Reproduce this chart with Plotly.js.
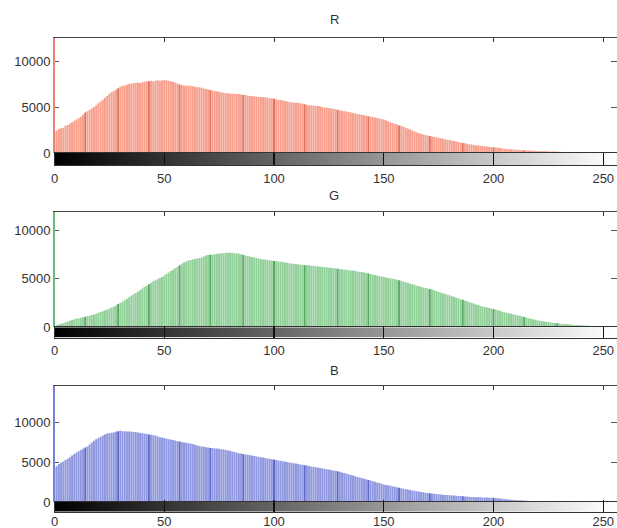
<!DOCTYPE html>
<html>
<head>
<meta charset="utf-8">
<script src="https://cdn.plot.ly/plotly-3.0.1.min.js"></script>
<style>html,body{margin:0;padding:0;background:#fff;}#chart{width:617px;height:528px;}</style>
</head>
<body>
<div id="chart"></div>
<script>
// Histogram counts for intensity levels 0..255
var redCounts = [
2300,2450,2600,2700,2750,2950,3050,3200,3350,3500,
3650,3800,3950,4150,4400,4550,4700,4850,5000,5200,
5400,5600,5800,6000,6200,6450,6600,6750,6900,7050,
7200,7300,7350,7450,7500,7550,7600,7600,7650,7600,
7700,7750,7800,7800,7850,7800,7850,7900,7850,7900,
7900,7900,7850,7800,7750,7650,7550,7450,7400,7350,
7350,7300,7300,7250,7200,7150,7150,7100,7000,6950,
6900,6850,6800,6750,6700,6650,6600,6550,6500,6500,
6450,6450,6450,6400,6400,6350,6300,6300,6250,6200,
6200,6150,6150,6100,6100,6050,6050,6000,5950,5950,
5900,5850,5800,5750,5700,5650,5600,5550,5500,5500,
5450,5450,5400,5350,5300,5250,5200,5200,5150,5100,
5100,5050,5000,4950,4950,4900,4850,4800,4750,4700,
4650,4600,4550,4500,4450,4400,4350,4300,4250,4200,
4150,4100,4050,4000,3950,3900,3850,3800,3750,3700,
3650,3550,3450,3350,3250,3150,3100,3000,2950,2850,
2750,2650,2550,2450,2350,2250,2150,2100,2000,1950,
1900,1850,1800,1750,1700,1650,1600,1550,1500,1450,
1400,1350,1300,1250,1200,1150,1100,1050,1000,950,
920,880,850,820,790,760,730,700,680,650,
620,590,560,530,500,470,440,420,400,380,
360,340,320,300,290,280,270,260,250,240,
230,220,210,200,190,180,170,160,150,140,
130,120,115,110,100,95,90,85,80,75,
70,65,60,55,50,45,40,38,35,32,
30,28,25,22,20,40];

var greenCounts = [
100,200,280,350,420,520,600,680,750,820,
880,930,980,1030,1100,1150,1200,1260,1320,1400,
1500,1580,1650,1750,1850,1950,2050,2150,2250,2400,
2500,2650,2800,2950,3100,3250,3400,3550,3700,3850,
4000,4150,4300,4450,4600,4750,4850,4950,5100,5200,
5350,5500,5650,5800,5950,6100,6250,6400,6550,6700,
6800,6900,6950,7000,7050,7100,7150,7200,7300,7400,
7450,7500,7500,7550,7600,7600,7650,7650,7700,7700,
7700,7700,7650,7650,7600,7550,7500,7400,7350,7300,
7250,7200,7150,7100,7050,7000,7000,6950,6900,6900,
6850,6850,6800,6800,6750,6700,6650,6600,6550,6550,
6500,6500,6450,6450,6400,6400,6400,6350,6350,6300,
6300,6250,6250,6200,6200,6150,6150,6100,6100,6050,
6000,6000,5950,5950,5900,5850,5850,5800,5750,5700,
5700,5650,5600,5550,5500,5450,5400,5350,5300,5250,
5200,5150,5100,5050,5000,4950,4900,4850,4800,4700,
4650,4600,4500,4450,4400,4300,4250,4150,4100,4050,
4000,3950,3900,3800,3750,3650,3600,3500,3450,3350,
3300,3200,3150,3050,3000,2900,2850,2750,2700,2600,
2500,2450,2350,2300,2200,2150,2100,2050,2000,1950,
1900,1850,1750,1700,1600,1550,1500,1450,1400,1350,
1300,1240,1180,1120,1060,1000,940,880,820,770,
720,680,640,600,570,540,510,480,450,420,
390,370,350,330,310,290,270,250,230,210,
200,185,170,155,140,130,120,110,100,90,
85,80,75,70,65,60];

var blueCounts = [
4250,4500,4750,4900,5050,5250,5400,5600,5800,6000,
6200,6350,6500,6650,6800,6950,7200,7450,7650,7850,
8000,8150,8300,8450,8550,8600,8650,8700,8800,8850,
8900,8850,8850,8800,8800,8800,8750,8750,8700,8650,
8600,8550,8500,8450,8400,8350,8300,8200,8100,8050,
8000,7950,7850,7800,7750,7700,7600,7550,7500,7450,
7400,7350,7300,7250,7150,7050,7000,6950,6900,6850,
6800,6750,6750,6700,6700,6650,6600,6550,6500,6450,
6400,6300,6250,6150,6100,6050,6000,5950,5900,5850,
5800,5750,5700,5650,5600,5550,5500,5450,5400,5350,
5300,5250,5200,5150,5100,5050,5000,4950,4900,4850,
4800,4750,4700,4650,4600,4550,4500,4450,4400,4350,
4300,4250,4200,4150,4100,4050,4000,3950,3900,3850,
3780,3700,3620,3540,3460,3380,3300,3220,3140,3060,
3000,2920,2840,2760,2680,2600,2520,2440,2360,2280,
2200,2140,2080,2020,1960,1900,1840,1780,1720,1660,
1600,1550,1500,1450,1400,1350,1300,1250,1210,1170,
1130,1100,1070,1040,1010,980,950,920,890,860,
840,820,800,780,760,740,720,700,680,660,
640,620,600,590,580,570,560,550,545,540,
520,490,460,430,400,370,340,310,290,270,
250,230,210,190,170,155,140,125,110,100,
95,90,85,80,75,70,65,60,55,50,
45,42,40,38,36,34,32,30,28,26,
25,24,23,22,21,20,20,19,19,18,
18,17,17,16,16,15];

var panelTitles = ["R", "G", "B"];
var xTickVals = [0, 50, 100, 150, 200, 250];
var xTickText = ["0", "50", "100", "150", "200", "250"];
var yTickVals = [0, 5000, 10000];
var yTickText = ["0", "5000", "10000"];

// intensity levels (bin positions)
var levels = [];
for (var i = 0; i < 256; i++) levels.push(i);

var series = [redCounts, greenCounts, blueCounts];
var barColors = ["#f7a08e", "#92d09a", "#9098e0"];
var darkColors = ["#e07462", "#5aa866", "#6068c8"];
var axisColors = ["#f08474", "#6cbc78", "#7880d8"];
var yMax = [12500, 11900, 14500];

// paper positions (fractions)
var W = 617, H = 528;
function fy(px) { return 1 - px / H; }
var mainDom = [[fy(153), fy(38)], [fy(327.3), fy(212)], [fy(502), fy(386)]];
var stripDom = [[fy(165), fy(153)], [fy(337.5), fy(327.3)], [fy(511.5), fy(502)]];
var xDom = [54.5 / W, 1];
var xRange = [0, (W - 54.5) / 2.195];
var labelStandoff = [1, 1, -2];

var data = [];
var layout = {
  width: W, height: H,
  margin: {l: 0, r: 0, t: 0, b: 0},
  paper_bgcolor: "#ffffff",
  plot_bgcolor: "#ffffff",
  showlegend: false,
  bargap: 0.08,
  font: {family: "Liberation Sans, Arial, sans-serif", size: 13, color: "#333333"},
  annotations: []
};

var titleY = [20, 195, 370];

for (var p = 0; p < 3; p++) {
  var n = p + 1;          // main axes index
  var s = p + 4;          // strip axes index
  var r = p + 7;          // right overlay y axis
  var colors = levels.map(function (v) {
    var k = Math.round(v * 7 / 100);
    return (k > 0 && Math.round(k * 100 / 7) === v) ? darkColors[p] : barColors[p];
  });
  data.push({
    type: "bar",
    x: levels,
    y: series[p],
    xaxis: "x" + n,
    yaxis: "y" + n,
    marker: {color: colors, line: {width: 0}},
    hoverinfo: "x+y"
  });
  data.push({
    type: "heatmap",
    x: levels,
    y: [0],
    z: [levels],
    xaxis: "x" + s,
    yaxis: "y" + s,
    colorscale: [[0, "#000000"], [1, "#ffffff"]],
    zmin: 0, zmax: 255,
    showscale: false,
    hoverinfo: "skip"
  });
  // invisible trace to activate the right overlay axis
  data.push({
    type: "scatter",
    x: [xRange[0]],
    y: [0],
    xaxis: "x" + n,
    yaxis: "y" + r,
    mode: "markers",
    marker: {opacity: 0},
    hoverinfo: "skip"
  });

  layout["xaxis" + n] = {
    domain: xDom, range: xRange, anchor: "y" + n, side: "top",
    tickvals: xTickVals, showticklabels: false,
    ticks: "inside", ticklen: 4, tickwidth: 1, tickcolor: "#333333",
    showline: true, linecolor: "#444444", linewidth: 1.5,
    showgrid: false, zeroline: false, fixedrange: true
  };
  layout["yaxis" + n] = {
    domain: mainDom[p], range: [0, yMax[p]], anchor: "x" + n,
    tickvals: yTickVals, ticktext: yTickText,
    ticks: "inside", ticklen: 4, tickcolor: "#555555",
    showline: true, linecolor: axisColors[p], linewidth: 1.5,
    showgrid: false, zeroline: false, fixedrange: true,
    tickfont: {size: 13, color: "#333333"}
  };
  layout["yaxis" + r] = {
    overlaying: "y" + n, side: "right", anchor: "x" + n,
    range: [0, yMax[p]], tickvals: yTickVals, showticklabels: false,
    ticks: "inside", ticklen: 6, tickcolor: "#555555",
    showline: false, showgrid: false, zeroline: false, fixedrange: true
  };
  layout["xaxis" + s] = {
    domain: xDom, range: xRange, anchor: "y" + s,
    tickvals: xTickVals, ticktext: xTickText,
    ticks: "inside", ticklen: 12, tickwidth: 1.2, tickcolor: "#111111",
    showline: true, mirror: true, linecolor: "#333333", linewidth: 1,
    showgrid: false, zeroline: false, fixedrange: true,
    ticklabelstandoff: labelStandoff[p],
    tickfont: {size: 13, color: "#333333"}
  };
  layout["yaxis" + s] = {
    domain: stripDom[p], range: [-0.5, 0.5], anchor: "x" + s,
    showticklabels: false, ticks: "",
    showline: true, mirror: true, linecolor: "#333333", linewidth: 1,
    showgrid: false, zeroline: false, fixedrange: true
  };
  layout.annotations.push({
    text: panelTitles[p], xref: "paper", yref: "paper",
    x: 334 / W, y: fy(titleY[p]), xanchor: "center", yanchor: "middle",
    showarrow: false, font: {size: 13, color: "#333333"}
  });
}

Plotly.newPlot("chart", data, layout, {displayModeBar: false, staticPlot: true});
</script>
</body>
</html>
